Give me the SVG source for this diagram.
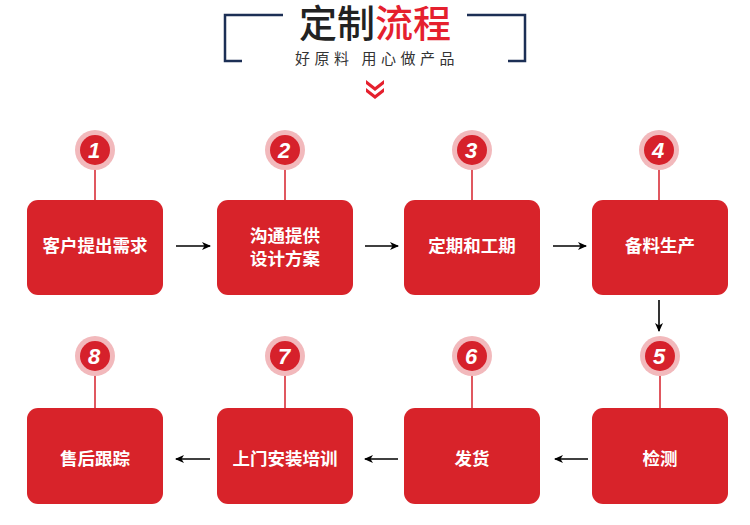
<svg xmlns="http://www.w3.org/2000/svg" width="750" height="525" viewBox="0 0 750 525">
<defs>
<style>
.box{fill:#d8232a}
.lbl{fill:#fff;font-family:"Noto Sans CJK SC","Liberation Sans",sans-serif;font-weight:bold;font-size:17.5px;text-anchor:middle}
.ring{fill:#f2b9bc}
.dot{fill:#d6212b}
.num{fill:#fff;font-family:"Liberation Sans",sans-serif;font-weight:bold;font-style:italic;font-size:22px;text-anchor:middle}
.stem{stroke:#d6212b;stroke-width:1.5}
.conn{stroke:#000;stroke-width:1.6;fill:none;marker-end:url(#ah)}
</style>
<marker id="ah" markerWidth="10" markerHeight="10" refX="8" refY="5" orient="auto" markerUnits="userSpaceOnUse">
<path d="M0,1 L9,5 L0,9 L2.5,5 Z" fill="#000"/>
</marker>
</defs>
<rect width="750" height="525" fill="#fff"/>
<g id="header">
<path d="M283,15 H225 V61 H242" fill="none" stroke="#1c2f55" stroke-width="2.5"/>
<path d="M467,15 H525 V61 H508" fill="none" stroke="#1c2f55" stroke-width="2.5"/>
<text x="375" y="37" font-family="Noto Sans CJK SC,sans-serif" font-size="38" font-weight="500" text-anchor="middle"><tspan fill="#222">定制</tspan><tspan fill="#e5202e">流程</tspan></text>
<text x="377" y="64" font-family="Noto Sans CJK SC,sans-serif" font-size="15" fill="#333" text-anchor="middle" letter-spacing="4.5">好原料 用心做产品</text>
<path d="M366,80 L375,87 L384,80 L384,84 L375,91 L366,84 Z M366,88 L375,95 L384,88 L384,92 L375,99 L366,92 Z" fill="#e5202e"/>
</g>
<g id="connectors">
<line class="conn" x1="176" y1="246" x2="210" y2="246"/>
<line class="conn" x1="365" y1="246" x2="398" y2="246"/>
<line class="conn" x1="553" y1="246" x2="586" y2="246"/>
<line class="conn" x1="659" y1="300" x2="659" y2="331"/>
<line class="conn" x1="588" y1="459" x2="555" y2="459"/>
<line class="conn" x1="398" y1="459" x2="365" y2="459"/>
<line class="conn" x1="210" y1="459" x2="176" y2="459"/>
</g>
<g id="n1">
<line class="stem" x1="95" y1="150" x2="95" y2="201"/>
<circle class="ring" cx="95" cy="150" r="20"/><circle class="dot" cx="95" cy="150" r="15"/>
<text class="num" x="94" y="158">1</text>
<rect class="box" x="27" y="200" width="136" height="95" rx="11"/>
<text class="lbl" x="95" y="252">客户提出需求</text>
</g>
<g id="n2">
<line class="stem" x1="285" y1="150" x2="285" y2="201"/>
<circle class="ring" cx="285" cy="150" r="20"/><circle class="dot" cx="285" cy="150" r="15"/>
<text class="num" x="284" y="158">2</text>
<rect class="box" x="217" y="200" width="136" height="95" rx="11"/>
<text class="lbl" x="285" y="242">沟通提供</text>
<text class="lbl" x="285" y="265">设计方案</text>
</g>
<g id="n3">
<line class="stem" x1="472" y1="150" x2="472" y2="201"/>
<circle class="ring" cx="472" cy="150" r="20"/><circle class="dot" cx="472" cy="150" r="15"/>
<text class="num" x="471" y="158">3</text>
<rect class="box" x="404" y="200" width="136" height="95" rx="11"/>
<text class="lbl" x="472" y="252">定期和工期</text>
</g>
<g id="n4">
<line class="stem" x1="659" y1="150" x2="659" y2="201"/>
<circle class="ring" cx="659" cy="150" r="20"/><circle class="dot" cx="659" cy="150" r="15"/>
<text class="num" x="658" y="158">4</text>
<rect class="box" x="592" y="200" width="136" height="95" rx="11"/>
<text class="lbl" x="660" y="252">备料生产</text>
</g>
<g id="n5">
<line class="stem" x1="660" y1="356" x2="660" y2="409"/>
<circle class="ring" cx="660" cy="356" r="20"/><circle class="dot" cx="660" cy="356" r="15"/>
<text class="num" x="659" y="364">5</text>
<rect class="box" x="592" y="408" width="136" height="96" rx="11"/>
<text class="lbl" x="660" y="465">检测</text>
</g>
<g id="n6">
<line class="stem" x1="472" y1="356" x2="472" y2="409"/>
<circle class="ring" cx="472" cy="356" r="20"/><circle class="dot" cx="472" cy="356" r="15"/>
<text class="num" x="471" y="364">6</text>
<rect class="box" x="404" y="408" width="136" height="96" rx="11"/>
<text class="lbl" x="472" y="465">发货</text>
</g>
<g id="n7">
<line class="stem" x1="285" y1="356" x2="285" y2="409"/>
<circle class="ring" cx="285" cy="356" r="20"/><circle class="dot" cx="285" cy="356" r="15"/>
<text class="num" x="284" y="364">7</text>
<rect class="box" x="217" y="408" width="136" height="96" rx="11"/>
<text class="lbl" x="285" y="465">上门安装培训</text>
</g>
<g id="n8">
<line class="stem" x1="95" y1="356" x2="95" y2="409"/>
<circle class="ring" cx="95" cy="356" r="20"/><circle class="dot" cx="95" cy="356" r="15"/>
<text class="num" x="94" y="364">8</text>
<rect class="box" x="27" y="408" width="136" height="96" rx="11"/>
<text class="lbl" x="95" y="465">售后跟踪</text>
</g>
</svg>
